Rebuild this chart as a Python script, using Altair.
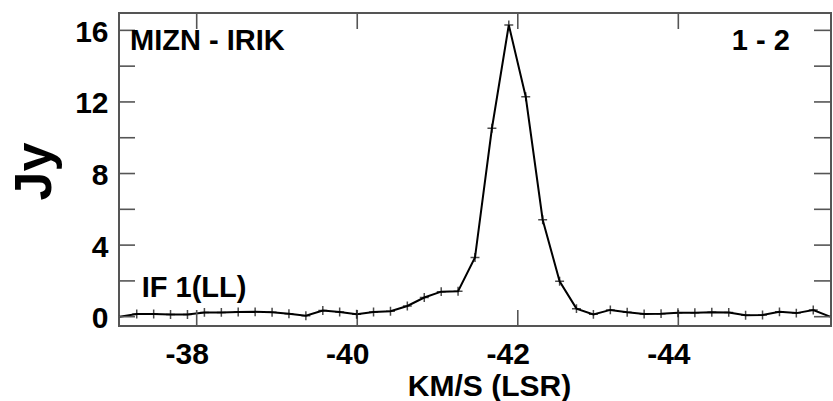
import altair as alt
import pandas as pd

# Spectrum samples: LSR velocity (km/s) and flux density (Jy)
velocity = [-37.253, -37.464, -37.674, -37.885, -38.096, -38.307, -38.517, -38.728,
            -38.939, -39.149, -39.360, -39.571, -39.781, -39.992, -40.203, -40.414,
            -40.624, -40.835, -41.046, -41.256, -41.467, -41.678, -41.888, -42.099,
            -42.310, -42.521, -42.731, -42.942, -43.153, -43.363, -43.574, -43.785,
            -43.995, -44.206, -44.417, -44.628, -44.838, -45.049, -45.260, -45.470,
            -45.681]
flux = [0.15, 0.15, 0.12, 0.12, 0.24, 0.24, 0.26, 0.27, 0.25, 0.16,
        0.05, 0.35, 0.26, 0.14, 0.26, 0.30, 0.60, 1.07, 1.40, 1.42,
        3.31, 10.53, 16.30, 12.29, 5.42, 1.98, 0.45, 0.13, 0.38, 0.25,
        0.15, 0.17, 0.22, 0.22, 0.25, 0.24, 0.08, 0.10, 0.27, 0.20,
        0.37]
# blanked edge channels drawn at zero
edge_velocity = [-37.04, -45.89]
edge_flux = [0.0, 0.0]

x_ticks = [-38, -40, -42, -44]
y_ticks = [0, 4, 8, 12, 16]
y_minor = [0, 2, 4, 6, 8, 10, 12, 14, 16]

notes_left = ["MIZN - IRIK", "IF 1(LL)"]
notes_left_x = [-37.17, -37.315]
notes_left_y = [14.9, 1.08]
notes_right = ["1 - 2"]
notes_right_x = [-45.39]
notes_right_y = [14.9]

FONT = "Liberation Sans"
FRAME = "#555555"

spec = pd.DataFrame({"v": velocity, "s": flux})
line_df = pd.DataFrame({"v": velocity + edge_velocity, "s": flux + edge_flux})

xscale = alt.Scale(domain=[-45.902, -37.032], reverse=True, nice=False, zero=False)
yscale = alt.Scale(domain=[-0.52, 16.97], nice=False, zero=False)

minus_fix = "replace(datum.label, '\u2212', '-')"

x_axis = alt.Axis(values=x_ticks, ticks=False, domain=False, grid=False,
                  labelFont=FONT, labelFontWeight="bold", labelFontSize=30,
                  labelColor="black", labelPadding=13, labelOffset=-10,
                  labelExpr=minus_fix,
                  title="KM/S (LSR)", titleFont=FONT, titleFontWeight="bold",
                  titleFontSize=30, titleColor="black", titleX=370, titleY=69,
                  titleBaseline="alphabetic", titleAlign="center")
y_axis = alt.Axis(values=y_ticks, ticks=False, domain=False, grid=False,
                  labelFont=FONT, labelFontWeight="bold", labelFontSize=30,
                  labelColor="black", labelPadding=11, labelOffset=2,
                  title="Jy", titleFont=FONT, titleFontWeight="bold",
                  titleFontSize=52, titleColor="black", titleAngle=270,
                  titleX=-69, titleY=158, titleBaseline="alphabetic",
                  titleAlign="center")


def xenc(field):
    return alt.X(field, type="quantitative", scale=xscale, axis=x_axis)


def yenc(field):
    return alt.Y(field, type="quantitative", scale=yscale, axis=y_axis)


line = alt.Chart(line_df).mark_line(color="black", strokeWidth=2, clip=True).encode(
    x=xenc("v"), y=yenc("s"))

points = alt.Chart(spec).mark_point(
    shape="M-1,0H1M0,-1V1", size=80, filled=False, color="black", strokeWidth=1.5
).encode(x=xenc("v"), y=yenc("s"))

ydf = pd.DataFrame({"t": y_minor})
xdf = pd.DataFrame({"t": x_ticks})

tick_style = dict(color=FRAME, strokeWidth=1.6)
left_ticks = alt.Chart(ydf).mark_rule(**tick_style).encode(
    y=yenc("t"), x=alt.value(0), x2=alt.value(16))
right_ticks = alt.Chart(ydf).mark_rule(**tick_style).encode(
    y=yenc("t"), x=alt.value(695), x2=alt.value(712))
bottom_ticks = alt.Chart(xdf).mark_rule(**tick_style).encode(
    x=xenc("t"), y=alt.value(297), y2=alt.value(314))
top_ticks = alt.Chart(xdf).mark_rule(**tick_style).encode(
    x=xenc("t"), y=alt.value(0), y2=alt.value(16))

text_style = dict(font=FONT, fontWeight="bold", fontSize=29, color="black",
                  baseline="alphabetic")
left_notes = alt.Chart(pd.DataFrame({"label": notes_left, "x": notes_left_x,
                                     "y": notes_left_y})).mark_text(
    align="left", **text_style).encode(x=xenc("x"), y=yenc("y"), text="label:N")
right_notes = alt.Chart(pd.DataFrame({"label": notes_right, "x": notes_right_x,
                                      "y": notes_right_y})).mark_text(
    align="right", **text_style).encode(x=xenc("x"), y=yenc("y"), text="label:N")

chart = alt.layer(
    line, left_ticks, right_ticks, bottom_ticks, top_ticks,
    points, left_notes, right_notes,
).properties(
    width=712, height=313,
    autosize=alt.AutoSizeParams(type="none"),
    padding={"left": 119, "top": 13, "right": 2, "bottom": 75},
    background="white",
).configure_view(stroke=FRAME, strokeWidth=2)

chart.save("out.html", embed_options={"renderer": "svg", "actions": False})
